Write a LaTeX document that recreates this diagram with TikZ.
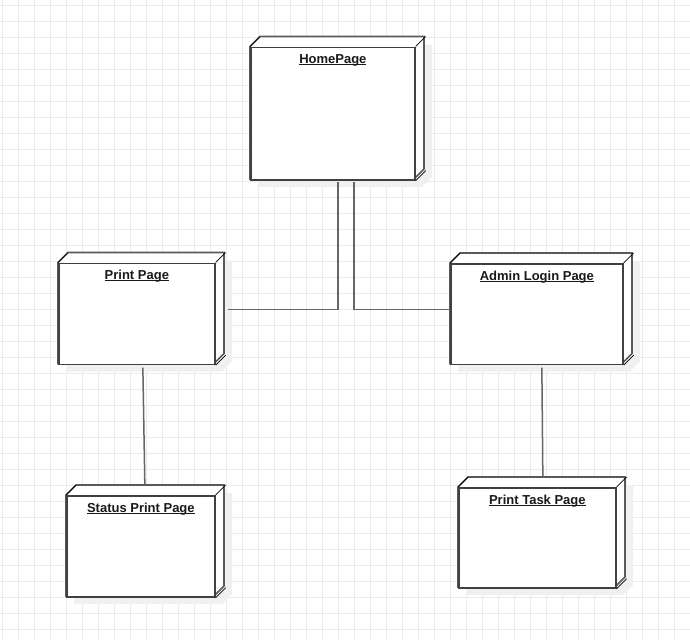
\documentclass[tikz,border=0pt]{standalone}
\usepackage{fontspec}
\setmainfont{Liberation Sans}
\usetikzlibrary{calc}

% underline close to the baseline, as in the drawing tool
\newcommand{\ulabel}[1]{\setbox0\hbox{#1}\rlap{\rule[-1.9pt]{\wd0}{1.1pt}}\box0}

\tikzset{
	gridline/.style={draw=black!8, line width=0.9pt},
	pagebox/.style={draw=black!75, line width=1.7pt, fill=white, inner sep=0pt, anchor=north west},
	pagedepth/.style={draw=black!65, line width=1.6pt, fill=white},
	pageedge/.style={draw=black, line width=0.7pt},
	pageshadow/.style={fill=black!6},
	pagelabel/.style={font=\fontsize{13}{15}\selectfont\bfseries, text=black!90, anchor=base, inner sep=0pt},
	link/.style={draw=black!60, line width=1.5pt},
}

% name, x, y, width, height, label
\newcommand{\deploynode}[6]{%
	\fill[pageshadow] (#2+8,#3+8) -- ++(10,-10) -- ++(#4,0) -- ++(0,#5) -- ++(-10,10) -- ++(-#4,0) -- cycle;
	\draw[pagedepth] (#2,#3) -- ++(10,-10) -- ++(#4,0) -- ++(0,#5) -- ++(-10,10) -- ++(-#4,0) -- cycle;
	\node[pagebox, minimum width=#4pt, minimum height=#5pt] (#1) at (#2,#3) {};
	\draw[pageedge] (#1.north west) -- ++(10,-10);
	\draw[pageedge] (#1.north east) -- ++(10,-10);
	\draw[pageedge] (#1.south east) -- ++(10,-10);
	\node[pagelabel] (#1-label) at ([yshift=-17pt]#1.north) {\ulabel{#6}};
}

\begin{document}
\begin{tikzpicture}[x=1pt,y=-1pt]
	\useasboundingbox (0,0) rectangle (690,640);
	\fill[white] (0,0) rectangle (690,640);
	% background grid
	\foreach \i in {0,...,42}
		\draw[gridline] ({2.7+16*\i},0) -- ({2.7+16*\i},640);
	\foreach \j in {0,...,39}
		\draw[gridline] (0,{5.3+16*\j}) -- (690,{5.3+16*\j});

	\deploynode{home}{250}{46.5}{164}{132.5}{HomePage}
	\deploynode{print}{58}{262.5}{156}{101}{Print Page}
	\deploynode{admin}{450}{263}{172}{100.5}{Admin Login Page}
	\deploynode{status}{66}{495}{148}{101}{Status Print Page}
	\deploynode{task}{458}{487}{157}{100}{Print Task Page}

	\draw[link] ([xshift=5pt,yshift=-1.5pt]home.south) |- ([xshift=12pt,yshift=4.5pt]print.east);
	\draw[link] ([xshift=21pt,yshift=-1.5pt]home.south) |- ([yshift=4.5pt]admin.west);
	\draw[link] ([xshift=6pt,yshift=-2.5pt]print.south) -- ([xshift=4pt,yshift=10pt]status.north);
	\draw[link] ([xshift=5pt,yshift=-2.5pt]admin.south) -- ([xshift=5.5pt,yshift=10pt]task.north);
\end{tikzpicture}
\end{document}
